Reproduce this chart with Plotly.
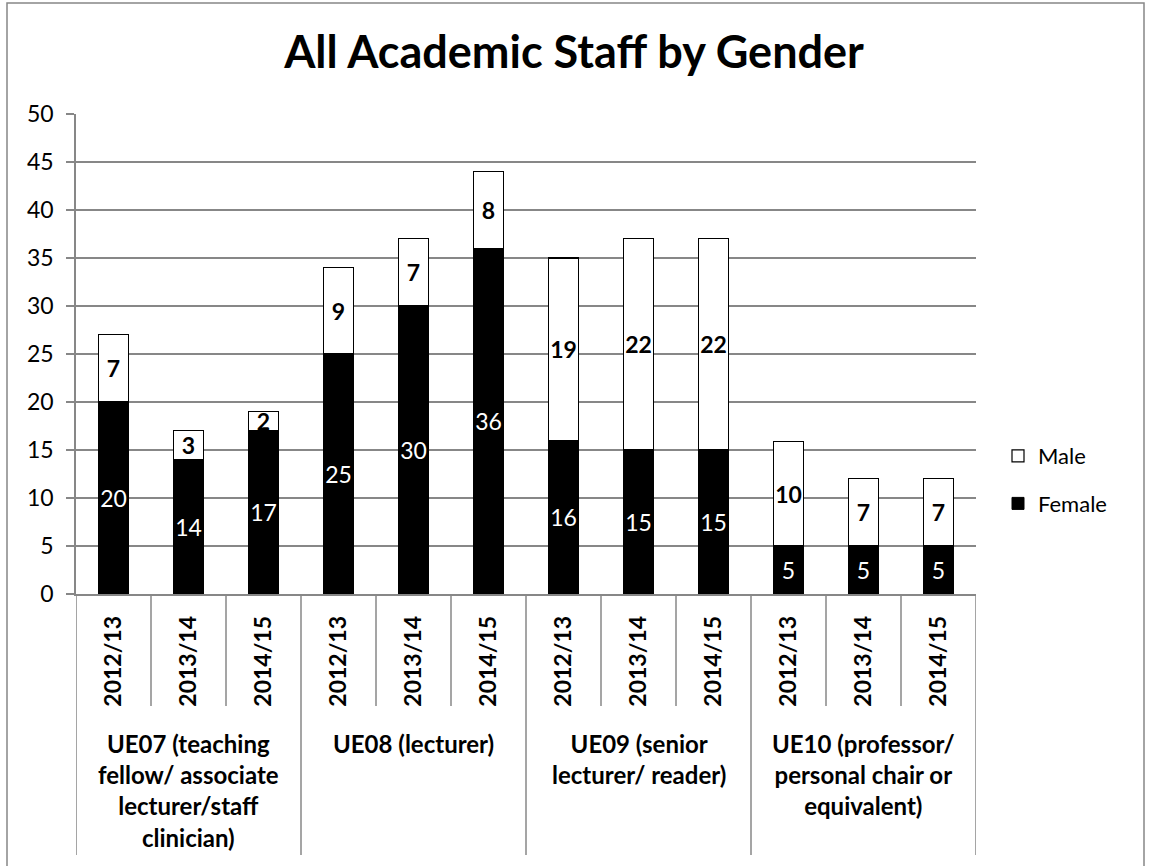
import plotly.graph_objects as go

# ---- data ----
groups = [
    "UE07 (teaching<br>fellow/ associate<br>lecturer/staff<br>clinician)",
    "UE08 (lecturer)",
    "UE09 (senior<br>lecturer/ reader)",
    "UE10 (professor/<br>personal chair or<br>equivalent)",
]
years = ["2012/13", "2013/14", "2014/15"]
female = [20, 14, 17, 25, 30, 36, 16, 15, 15, 5, 5, 5]
male = [7, 3, 2, 9, 7, 8, 19, 22, 22, 10.9, 7, 7]
female_labels = ["20", "14", "17", "25", "30", "36", "16", "15", "15", "5", "5", "5"]
male_labels = ["7", "3", "2", "9", "7", "8", "19", "22", "22", "10", "7", "7"]

# ---- layout constants (pixels) ----
W, H = 1152, 866
PL, PR, PT, PB = 76, 976, 114, 594
GRID = "#878787"
FONT = "Lato"


def py(p):
    return (PB - p) / (PB - PT)


def px(p):
    return (p - PL) / (PR - PL)


n = len(years) * len(groups)
xs = list(range(n))
ticktext = [years[i % len(years)] for i in xs]

fig = go.Figure()
fig.add_trace(go.Bar(
    x=xs, y=female, name="Female", width=0.4,
    marker=dict(color="black", line=dict(color="black", width=1)),
    text=female_labels, textposition="inside",
    insidetextanchor="middle", textangle=0,
    textfont=dict(family=FONT, size=23, color="white"),
    legendgroup="f", legendrank=2,
))
fig.add_trace(go.Bar(
    x=xs, y=male, name="Male", width=0.4,
    marker=dict(color="white", line=dict(color="black", width=1.2)),
    text=["<b>%s</b>" % v for v in male_labels], textposition="inside",
    insidetextanchor="middle", textangle=0,
    textfont=dict(family=FONT, size=23, color="black"),
    legendgroup="m", legendrank=1,
))

shapes = []
# category dividers below the axis
for k in range(n + 1):
    xk = k - 0.5
    bottom = 855 if k % len(years) == 0 else 706
    shapes.append(dict(type="line", xref="x", yref="paper", x0=xk, x1=xk,
                       y0=0, y1=py(bottom), line=dict(color=GRID, width=1.5)))
# outer chart border
shapes.append(dict(type="rect", xref="paper", yref="paper",
                   x0=px(7), x1=px(1144), y0=py(3), y1=py(900),
                   line=dict(color=GRID, width=1.5)))

annotations = []
for gi, g in enumerate(groups):
    annotations.append(dict(
        x=gi * len(years) + 1, xref="x", y=py(727), yref="paper",
        yanchor="top", xanchor="center", showarrow=False, align="center",
        text="<b>%s</b>" % g, font=dict(family=FONT, size=24, color="black"),
    ))

fig.update_layout(
    width=W, height=H,
    margin=dict(l=PL, r=W - PR, t=PT, b=H - PB, pad=0),
    paper_bgcolor="white", plot_bgcolor="white",
    barmode="stack",
    title=dict(text="<b>All Academic Staff by Gender</b>", x=574 / W, xanchor="center",
               y=1 - 52 / H, yanchor="middle",
               font=dict(family=FONT, size=45, color="black")),
    font=dict(family=FONT, color="black"),
    showlegend=True,
    legend=dict(x=px(998), xanchor="left", y=py(435), yanchor="top",
                traceorder="grouped", tracegroupgap=16,
                font=dict(family=FONT, size=22, color="black"),
                bgcolor="rgba(0,0,0,0)"),
    uniformtext=dict(mode="show", minsize=23),
    shapes=shapes,
    annotations=annotations,
)
fig.update_xaxes(
    range=[-0.5, n - 0.5], tickmode="array", tickvals=xs, ticktext=["<b>%s</b>" % t for t in ticktext],
    tickangle=-90, tickfont=dict(family=FONT, size=23, color="black"),
    showline=True, linecolor=GRID, linewidth=1.5, ticks="", showgrid=False,
    zeroline=False, ticklabelstandoff=11,
)
fig.update_yaxes(
    range=[0, 50], tick0=0, dtick=5, showgrid=True, gridcolor=GRID, gridwidth=1.5,
    showline=True, linecolor=GRID, linewidth=1.5, ticks="outside", ticklen=8,
    tickcolor=GRID, tickwidth=1.5, tickfont=dict(family=FONT, size=23, color="black"),
    zeroline=False, ticklabelstandoff=8,
)

fig.write_html("out.html")
